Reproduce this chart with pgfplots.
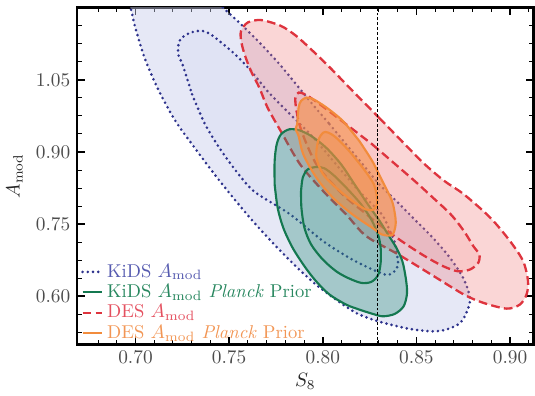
\documentclass[border=0pt]{standalone}
\usepackage{pgfplots}
\pgfplotsset{compat=1.18}
\definecolor{kidsline}{RGB}{45,50,140}
\definecolor{kidsfill}{RGB}{200,205,235}
\definecolor{desline}{RGB}{222,52,62}
\definecolor{desfill}{RGB}{240,120,120}
\definecolor{kpline}{RGB}{20,120,80}
\definecolor{kpfill}{RGB}{40,140,120}
\definecolor{dpline}{RGB}{242,140,60}
\definecolor{dpfill}{RGB}{245,140,60}
\definecolor{kidstext}{RGB}{85,90,175}
\definecolor{kptext}{RGB}{40,135,95}
\definecolor{destext}{RGB}{228,80,95}
\definecolor{dptext}{RGB}{242,150,85}
\tikzset{
  kidsstyle/.style={draw=kidsline, line width=1.5pt, line cap=round, dash pattern=on 0pt off 2.7pt},
  desstyle/.style={draw=desline, line width=1.2pt, dash pattern=on 4.5pt off 2.2pt},
  kpstyle/.style={draw=kpline, line width=1.1pt},
  dpstyle/.style={draw=dpline, line width=1.1pt},
}
\begin{document}
\begin{tikzpicture}
\begin{axis}[
  name=ax,
  scale only axis,
  width=236pt, height=174pt,
  xmin=0.6688, xmax=0.9126,
  ymin=0.50, ymax=1.20,
  xtick={0.70,0.75,0.80,0.85,0.90},
  ytick={0.60,0.75,0.90,1.05},
  minor xtick={0.68,0.69,0.71,0.72,0.73,0.74,0.76,0.77,0.78,0.79,0.81,0.82,0.83,0.84,0.86,0.87,0.88,0.89,0.91},
  minor ytick={0.5250,0.5625,0.6375,0.675,0.7125,0.7875,0.825,0.8625,0.9375,0.975,1.0125,1.0875,1.125,1.1625},
  tick pos=both,
  tick align=inside,
  major tick length=4pt, minor tick length=2.3pt,
  major tick style={line width=0.8pt, black},
  minor tick style={line width=0.5pt, black},
  axis line style={line width=1.4pt},
  xticklabel style={black!70, /pgf/number format/.cd, fixed, fixed zerofill, precision=2},
  yticklabel style={black!70, /pgf/number format/.cd, fixed, fixed zerofill, precision=2},
  xlabel={$S_8$}, ylabel={$A_{\rm mod}$},
  xlabel style={yshift=2pt},
  label style={black!85},
  legend cell align=left,
  legend image code/.code={\draw[#1] (0pt,0pt) -- (10pt,0pt);},
  legend style={at={(0.008,-0.003)}, anchor=south west, draw=none, fill=none, inner sep=0pt, row sep=-1.8pt, font=\fontsize{9.6}{11}\selectfont},
]
% KiDS outer
\addplot[kidsstyle, fill=kidsfill, fill opacity=0.45, smooth, tension=0.5, forget plot] coordinates {
(0.8036,0.958) (0.8125,0.916) (0.8214,0.874) (0.8304,0.832) (0.8393,0.798) (0.8482,0.763)
(0.8589,0.721) (0.8679,0.680) (0.8750,0.638) (0.8786,0.597) (0.8771,0.569) (0.8732,0.544)
(0.8661,0.531) (0.8589,0.527) (0.8482,0.531) (0.8393,0.538) (0.8286,0.549) (0.8179,0.565)
(0.8071,0.593) (0.7964,0.624) (0.7857,0.662) (0.7750,0.704) (0.7643,0.749) (0.7536,0.798)
(0.7429,0.850) (0.7321,0.906) (0.7214,0.964) (0.7125,1.027) (0.7054,1.090) (0.7009,1.145)
(0.6982,1.187) (0.6973,1.235) (0.7196,1.263) (0.7411,1.229) (0.7464,1.202) (0.7554,1.169)
(0.7661,1.128) (0.7768,1.083) (0.7857,1.041) (0.7946,0.999) (0.8036,0.958)} -- cycle;
% KiDS inner
\addplot[kidsstyle, fill=kidsfill, fill opacity=0.2, smooth, tension=0.5, forget plot] coordinates {
(0.7302,1.020) (0.7371,0.958) (0.7459,0.902) (0.7564,0.847) (0.7643,0.815) (0.7827,0.770)
(0.8000,0.715) (0.8141,0.680) (0.8246,0.659) (0.8334,0.645) (0.8375,0.649) (0.8402,0.666)
(0.8393,0.694) (0.8388,0.708) (0.8352,0.742) (0.8316,0.770) (0.8246,0.798) (0.8177,0.826)
(0.8063,0.878) (0.7950,0.930) (0.7879,0.958) (0.7791,0.992) (0.7704,1.027) (0.7616,1.069)
(0.7529,1.104) (0.7425,1.138) (0.7375,1.150) (0.7338,1.152) (0.7286,1.147) (0.7241,1.135)
(0.7227,1.117) (0.7232,1.097) (0.7250,1.083) (0.7302,1.020)} -- cycle;
% DES outer
\addplot[desstyle, fill=desfill, fill opacity=0.3, smooth, tension=0.5, forget plot] coordinates {
(0.8300,0.9715) (0.8421,0.9229) (0.8545,0.8743) (0.8650,0.8396) (0.8754,0.8118) (0.8895,0.7632)
(0.9000,0.7146) (0.9070,0.6729) (0.9096,0.6313) (0.9088,0.6035) (0.9052,0.5826) (0.8982,0.5743)
(0.8859,0.5861) (0.8754,0.6035) (0.8579,0.6451) (0.8404,0.6868) (0.8232,0.7250) (0.8125,0.7701)
(0.8002,0.8188) (0.7879,0.8743) (0.7775,0.9438) (0.7705,0.9924) (0.7661,1.0340) (0.7616,1.0688)
(0.7582,1.1035) (0.7564,1.1313) (0.7564,1.1521) (0.7600,1.1694) (0.7670,1.1743) (0.7775,1.1625)
(0.7857,1.1417) (0.7946,1.1104) (0.8038,1.0757) (0.8159,1.0271) (0.8300,0.9715)} -- cycle;
% DES inner
\addplot[desstyle, fill=desfill, fill opacity=0.15, smooth, tension=0.5, forget plot] coordinates {
(0.8264,0.9160) (0.8388,0.8743) (0.8491,0.8396) (0.8579,0.8083) (0.8684,0.7701) (0.8754,0.7354)
(0.8804,0.7042) (0.8836,0.6868) (0.8830,0.6694) (0.8786,0.6556) (0.8720,0.6521) (0.8643,0.6625)
(0.8545,0.6833) (0.8421,0.7146) (0.8300,0.7493) (0.8213,0.7771) (0.8125,0.8049) (0.8038,0.8396)
(0.7966,0.8743) (0.7914,0.9160) (0.7875,0.9576) (0.7857,0.9924) (0.7854,1.0132) (0.7871,1.0236)
(0.7911,1.0188) (0.7984,0.9993) (0.8125,0.9576) (0.8264,0.9160)} -- cycle;
% KiDS Planck outer
\addplot[kpstyle, fill=kpfill, fill opacity=0.35, smooth, tension=0.5, forget plot] coordinates {
(0.7743,0.8326) (0.7759,0.7840) (0.7789,0.7424) (0.7839,0.7007) (0.7902,0.6625) (0.7964,0.6313)
(0.8036,0.6035) (0.8125,0.5826) (0.8196,0.5722) (0.8268,0.5632) (0.8321,0.5583) (0.8384,0.5632)
(0.8432,0.5792) (0.8450,0.6069) (0.8443,0.6382) (0.8425,0.6729) (0.8393,0.7007) (0.8354,0.7250)
(0.8304,0.7563) (0.8241,0.7910) (0.8170,0.8326) (0.8098,0.8743) (0.8018,0.9090) (0.7938,0.9333)
(0.7875,0.9451) (0.7821,0.9472) (0.7777,0.9368) (0.7754,0.9160) (0.7743,0.8813) (0.7743,0.8326)} -- cycle;
% KiDS Planck inner
\addplot[kpstyle, fill=kpfill, fill opacity=0.1, smooth, tension=0.5, forget plot] coordinates {
(0.7884,0.8188) (0.7886,0.7840) (0.7902,0.7424) (0.7938,0.7076) (0.8000,0.6764) (0.8071,0.6521)
(0.8134,0.6382) (0.8205,0.6278) (0.8259,0.6299) (0.8295,0.6438) (0.8309,0.6694) (0.8309,0.7007)
(0.8295,0.7285) (0.8259,0.7597) (0.8205,0.7910) (0.8134,0.8222) (0.8063,0.8500) (0.8009,0.8660)
(0.7966,0.8688) (0.7920,0.8639) (0.7893,0.8465) (0.7884,0.8188)} -- cycle;
% DES Planck outer
\addplot[dpstyle, fill=dpfill, fill opacity=0.55, smooth, tension=0.5, forget plot] coordinates {
(0.8195,0.9229) (0.8264,0.8813) (0.8318,0.8396) (0.8370,0.7979) (0.8388,0.7632) (0.8388,0.7458)
(0.8370,0.7271) (0.8316,0.7285) (0.8264,0.7424) (0.8159,0.7701) (0.8054,0.8049) (0.7966,0.8465)
(0.7896,0.8951) (0.7871,0.9333) (0.7855,0.9472) (0.7863,0.9576) (0.7871,0.9924) (0.7884,1.0063)
(0.7914,1.0132) (0.7950,1.0097) (0.8020,0.9924) (0.8107,0.9646) (0.8195,0.9229)} -- cycle;
% DES Planck inner
\addplot[dpstyle, fill=dpfill, fill opacity=0.3, smooth, tension=0.5, forget plot] coordinates {
(0.8213,0.8674) (0.8273,0.8326) (0.8291,0.7979) (0.8273,0.7806) (0.8229,0.7806) (0.8159,0.7979)
(0.8071,0.8257) (0.8002,0.8535) (0.7966,0.8882) (0.7975,0.9229) (0.8002,0.9403) (0.8029,0.9403)
(0.8071,0.9299) (0.8141,0.9021) (0.8213,0.8674)} -- cycle;
% Planck S8 line
\addplot[black, line width=0.5pt, dash pattern=on 1.5pt off 1pt, forget plot] coordinates {(0.829,0.50) (0.829,1.20)};
\addlegendimage{kidsstyle}
\addlegendentry{\textcolor{kidstext}{KiDS $A_{\rm mod}$}}
\addlegendimage{kpstyle}
\addlegendentry{\textcolor{kptext}{KiDS $A_{\rm mod}$ \textit{Planck} Prior}}
\addlegendimage{desstyle}
\addlegendentry{\textcolor{destext}{DES $A_{\rm mod}$}}
\addlegendimage{dpstyle}
\addlegendentry{\textcolor{dptext}{DES $A_{\rm mod}$ \textit{Planck} Prior}}
\end{axis}
\path (ax.north) ++(0pt,4pt);
\end{tikzpicture}
\end{document}
